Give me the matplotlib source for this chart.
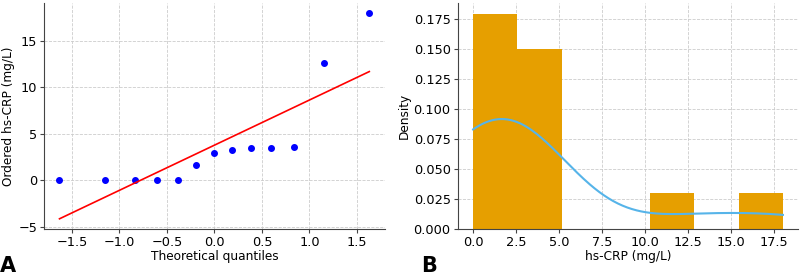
import numpy as np
import matplotlib
matplotlib.use("Agg")
import matplotlib.pyplot as plt

# hs-CRP values (mg/L)
hs_crp = [0.0, 0.0, 0.0, 0.0, 0.0, 1.6, 2.9, 3.3, 3.5, 3.5, 3.6, 12.6, 18.0]
theo_q = [-1.63, -1.15, -0.84, -0.60, -0.38, -0.19, 0.0, 0.19, 0.38, 0.60, 0.84, 1.15, 1.63]
fit_x = [-1.63, 1.63]
fit_y = [-4.15, 11.7]

N_BINS = 7
HIST_COLOR = "#E69F00"
KDE_COLOR = "#56B4E9"

plt.rcParams['font.family'] = ['DejaVu Sans']
plt.rcParams['font.size'] = 8.7


def style_ax(ax):
    ax.grid(True, linestyle='--', color='#cccccc', linewidth=0.6)
    ax.set_axisbelow(True)
    for s in ['top', 'right']:
        ax.spines[s].set_visible(False)
    for s in ['left', 'bottom']:
        ax.spines[s].set_color('#444444')
    ax.tick_params(length=3, color='#444444', labelsize=9.3, pad=2)


def gaussian_kde(data, grid):
    data = np.asarray(data)
    bw = data.std(ddof=1) * len(data) ** (-1 / 5)
    z = (grid[:, None] - data[None, :]) / bw
    return np.exp(-0.5 * z ** 2).sum(axis=1) / (len(data) * bw * np.sqrt(2 * np.pi))


fig = plt.figure(figsize=(8, 2.76), dpi=100)

# --- A: Q-Q plot ---
ax1 = fig.add_axes([0.055, 0.17, 0.426, 0.82])
ax1.plot(theo_q, hs_crp, 'o', color='blue', markersize=4)
ax1.plot(fit_x, fit_y, color='red', linewidth=1.2)
ax1.set_xlabel('Theoretical quantiles', labelpad=1)
ax1.set_ylabel('Ordered hs-CRP (mg/L)', labelpad=2)
style_ax(ax1)
fig.text(0.0, 0.015, 'A', fontsize=15, fontweight='bold')

# --- B: histogram + KDE ---
ax2 = fig.add_axes([0.572, 0.17, 0.426, 0.82])
ax2.hist(hs_crp, bins=N_BINS, density=True, color=HIST_COLOR, edgecolor='none')
grid = np.linspace(min(hs_crp), max(hs_crp), 200)
ax2.plot(grid, gaussian_kde(hs_crp, grid), color=KDE_COLOR, linewidth=1.5)
ax2.set_xlabel('hs-CRP (mg/L)', labelpad=1)
ax2.set_ylabel('Density', labelpad=2)
style_ax(ax2)
fig.text(0.527, 0.015, 'B', fontsize=15, fontweight='bold')

fig.savefig('out.png', dpi=100)
